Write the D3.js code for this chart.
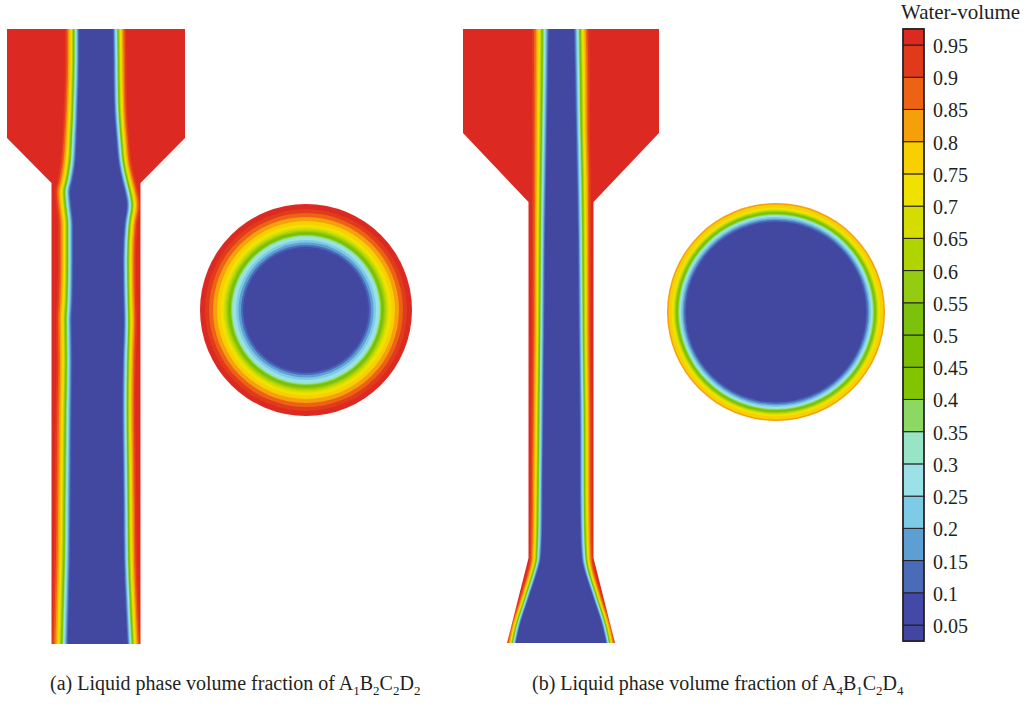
<!DOCTYPE html>
<html>
<head>
<meta charset="utf-8">
<script src="https://cdn.jsdelivr.net/npm/d3@7"></script>
<style>
  body { margin: 0; background: #fff; }
  svg { display: block; }
  text { font-family: "Liberation Serif", "DejaVu Serif", serif; fill: #231f20; }
</style>
</head>
<body>
<svg id="fig" width="1026" height="710"></svg>
<script>
// ---- contour levels of the water volume fraction ----
const levels = [0.05, 0.1, 0.15, 0.2, 0.25, 0.3, 0.35, 0.4, 0.45, 0.5,
                0.55, 0.6, 0.65, 0.7, 0.75, 0.8, 0.85, 0.9, 0.95];
const tickLabels = ["0.05", "0.1", "0.15", "0.2", "0.25", "0.3", "0.35", "0.4", "0.45", "0.5",
                    "0.55", "0.6", "0.65", "0.7", "0.75", "0.8", "0.85", "0.9", "0.95"];
// one colour per band, from [0, 0.05] up to [0.95, 1]
const bandColors = ["#4246a0", "#4449a8", "#4a6bb8", "#5d9fd2", "#7ecbe8", "#9ce1e8", "#98e4c6",
                    "#8cd862", "#80c402", "#7ac000", "#7cc20c", "#94cc12", "#b0d402", "#d4dc00",
                    "#f0e200", "#f8cf00", "#f5a00a", "#ee6214", "#e03a1a", "#dc2a20"];
// position of each level across the liquid/air shear layer (0 = core edge, 1 = outer edge)
const bandProfile = [0, 0.07, 0.13, 0.19, 0.25, 0.30, 0.34, 0.37, 0.40, 0.43,
                     0.46, 0.49, 0.52, 0.56, 0.62, 0.70, 0.79, 0.89, 1.0];

// ---- nozzle A1B2C2D2 (axial section), lengths in mm ----
const wallAY    = [0, 109, 154, 615];
const wallAHalf = [89, 89, 44.5, 44.5];
const jetAY     = [0, 31, 71, 111, 136, 151, 163, 176, 196, 231, 271, 291, 331, 381, 431, 481, 531, 571, 615];
const jetALeft  = [-16, -16, -17, -18.5, -20, -22.5, -25, -24, -22, -22, -22.5, -23.5, -23, -23.5, -24, -24.5, -25, -26, -27.5];
const jetARight = [16, 16.5, 17, 19.5, 22, 25, 28, 30, 27.5, 26, 26.5, 27, 26, 25.5, 26, 26.5, 27, 28.5, 31];
const layerALeft  = [15, 15, 15, 15.5, 16, 16, 16, 16, 16, 16, 16.5, 16.5, 16.5, 17, 17, 17, 17, 17, 17];
const layerARight = [14, 14, 14, 14, 14, 14.5, 14.5, 14.5, 14, 14, 14, 14, 14, 14, 14, 14, 14, 14, 14];
// cross section of A1B2C2D2: radius of each level
const discAOuter = 106;
const discARadii = [61, 63, 65, 67.5, 70, 72.5, 74, 75, 76, 77, 78, 79, 80.5, 82.5, 85.5, 89, 93, 97, 101];

// ---- nozzle A4B1C2D4 (axial section) ----
const wallBY    = [0, 104, 173, 529, 614];
const wallBHalf = [98, 98, 32.5, 32.5, 54];
const jetBY     = [0, 51, 101, 151, 201, 251, 301, 351, 401, 451, 501, 529, 546, 561, 576, 591, 614];
const jetBLeft  = [-11, -12, -13, -14, -15, -15.5, -16, -16.5, -17, -17.5, -18, -19.5, -24, -29, -34, -39, -46];
const jetBRight = [12, 13, 14, 15, 16, 16.5, 17, 17.5, 18, 18, 18.5, 20, 24, 29, 34, 39, 46];
const layerBLeft  = [18, 17, 16, 15, 14, 13.5, 13, 13, 13, 13, 13, 12, 11, 10.5, 10, 10, 9.5];
const layerBRight = [16, 16, 15, 15, 14, 13.5, 13, 13, 13, 13, 13, 12, 11, 10.5, 10, 10, 9.5];
// cross section of A4B1C2D4
const discBOuter = 109;
const discBRadii = [89, 90.5, 92, 93.5, 95, 96, 97, 98, 98.7, 99.3, 100, 100.7, 101.5, 102.5, 104.5, 107.5, 111, 114, 117];

const svg = d3.select("#fig");
const defs = svg.append("defs");
defs.append("filter").attr("id", "soft")
  .attr("x", "-5%").attr("y", "-5%").attr("width", "110%").attr("height", "110%")
  .append("feGaussianBlur").attr("stdDeviation", 0.6);

function drawNozzle(key, cx, top, wallY, wallHalf, jetY, jetL, jetR, layL, layR) {
  const x = d3.scaleLinear().domain([-100, 100]).range([cx - 100, cx + 100]);
  const y = d3.scaleLinear().domain([0, 615]).range([top, top + 615]);
  const left = wallY.map((v, i) => [x(-wallHalf[i]), y(v)]);
  const right = wallY.map((v, i) => [x(wallHalf[i]), y(v)]).reverse();
  const outline = d3.line()(left.concat(right)) + "Z";
  defs.append("clipPath").attr("id", "clip-" + key).append("path").attr("d", outline);

  const g = svg.append("g").attr("clip-path", `url(#clip-${key})`)
    .append("g").attr("filter", "url(#soft)");
  g.append("rect")
    .attr("x", x(-110)).attr("y", y(-10))
    .attr("width", x(110) - x(-110)).attr("height", y(625) - y(-10))
    .attr("fill", bandColors[bandColors.length - 1]);

  const rows = d3.range(jetY.length);
  const last = jetY.length - 1;
  // ends pushed slightly past the walls so the soft edge stays inside the clip
  const yAt = i => y(jetY[i]) + (i === 0 ? -8 : i === last ? 8 : 0);
  for (let k = levels.length - 1; k >= 0; k--) {
    const p = bandProfile[k];
    const area = d3.area().curve(d3.curveMonotoneY)
      .y(yAt)
      .x0(i => x(jetL[i] - layL[i] * p))
      .x1(i => x(jetR[i] + layR[i] * p));
    g.append("path").attr("d", area(rows)).attr("fill", bandColors[k]);
  }
}

function drawDisc(key, cx, cy, outer, radii) {
  const r = d3.scaleLinear().domain([0, 120]).range([0, 120]);
  defs.append("clipPath").attr("id", "clip-" + key)
    .append("circle").attr("cx", cx).attr("cy", cy).attr("r", r(outer));
  const g = svg.append("g").attr("clip-path", `url(#clip-${key})`)
    .append("g").attr("filter", "url(#soft)");
  g.append("circle").attr("cx", cx).attr("cy", cy).attr("r", r(outer + 6))
    .attr("fill", bandColors[bandColors.length - 1]);
  for (let k = levels.length - 1; k >= 0; k--) {
    g.append("circle").attr("cx", cx).attr("cy", cy).attr("r", r(radii[k]))
      .attr("fill", bandColors[k]);
  }
}

drawNozzle("a", 96, 29, wallAY, wallAHalf, jetAY, jetALeft, jetARight, layerALeft, layerARight);
drawDisc("da", 306, 310, discAOuter, discARadii);
drawNozzle("b", 561, 29, wallBY, wallBHalf, jetBY, jetBLeft, jetBRight, layerBLeft, layerBRight);
drawDisc("db", 776, 312, discBOuter, discBRadii);

// ---- colour legend ----
const legend = svg.append("g");
const cy = d3.scaleLinear().domain([0.05, 0.95]).range([625, 45]);
const half = 0.025;
const edges = [levels[0] - half].concat(levels, [levels[levels.length - 1] + half]);
const barX = 903, barW = 21;
legend.selectAll("rect.band").data(bandColors).join("rect")
  .attr("class", "band")
  .attr("x", barX).attr("width", barW)
  .attr("y", (d, i) => cy(edges[i + 1]))
  .attr("height", (d, i) => cy(edges[i]) - cy(edges[i + 1]))
  .attr("fill", d => d)
  .attr("stroke", "#231f20").attr("stroke-width", 1);
legend.append("rect")
  .attr("x", barX).attr("y", cy(edges[edges.length - 1]))
  .attr("width", barW).attr("height", cy(edges[0]) - cy(edges[edges.length - 1]))
  .attr("fill", "none").attr("stroke", "#231f20").attr("stroke-width", 1.5);
legend.selectAll("text.tick").data(levels).join("text")
  .attr("class", "tick")
  .attr("x", 933).attr("y", d => cy(d) + 1)
  .attr("dominant-baseline", "central")
  .attr("font-size", 20)
  .text((d, i) => tickLabels[i]);
legend.append("text").attr("x", 901).attr("y", 19).attr("font-size", 21).text("Water-volume");

// ---- captions: chemical-style subscripts on the factor labels ----
function caption(x, label, subs) {
  const t = svg.append("text").attr("x", x).attr("y", 690).attr("font-size", 20);
  t.append("tspan").text(label + " Liquid phase volume fraction of ");
  const letters = ["A", "B", "C", "D"];
  letters.forEach((L, i) => {
    t.append("tspan").attr("dy", i === 0 ? 0 : -5).text(L);
    t.append("tspan").attr("font-size", 13).attr("dy", 5).text(subs[i]);
  });
}
caption(50, "(a)", ["1", "2", "2", "2"]);
caption(532, "(b)", ["4", "1", "2", "4"]);
</script>
</body>
</html>
